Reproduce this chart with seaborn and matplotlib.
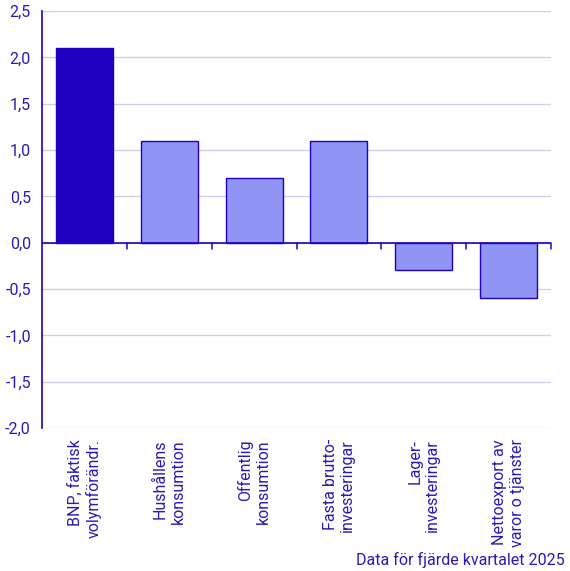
import numpy as np
import pandas as pd
import matplotlib.pyplot as plt
import seaborn as sns

categories = ['BNP, faktisk\nvolymförändr.', 'Hushållens\nkonsumtion', 'Offentlig\nkonsumtion',
              'Fasta brutto-\ninvesteringar', 'Lager-\ninvesteringar', 'Nettoexport av\nvaror o tjänster']
values = [2.1, 1.1, 0.7, 1.1, -0.3, -0.6]
bar_colors = ['#1e00be', '#8f94f5', '#8f94f5', '#8f94f5', '#8f94f5', '#8f94f5']
yticks = [2.5, 2.0, 1.5, 1.0, 0.5, 0.0, -0.5, -1.0, -1.5, -2.0]

dark = '#1e00be'
text_col = '#2a1ab4'

sns.set_style('white')
plt.rcParams['font.family'] = ['Roboto', 'DejaVu Sans']

df = pd.DataFrame({'kategori': categories, 'varde': values})

fig = plt.figure(figsize=(5.70, 5.71), dpi=100)
ax = fig.add_axes([42 / 570, 1 - 428 / 571, 509 / 570, 417 / 571])

sns.barplot(data=df, x='kategori', y='varde', hue='kategori', palette=bar_colors,
            legend=False, width=0.67, saturation=1, edgecolor=dark, linewidth=1.0, ax=ax, zorder=3)

ax.set_xlim(-0.5, 5.5)
ax.set_ylim(-2.0, 2.5)
ax.set_yticks(yticks)
ax.set_yticklabels([f'{v:.1f}'.replace('.', ',') for v in yticks])
for v in yticks:
    ax.axhline(v, color='#cfcbeb', linewidth=0.9, zorder=1)
ax.axhline(0, color=dark, linewidth=1.2, zorder=4)

ax.set_xticks(np.arange(len(categories)))
ax.set_xticklabels(categories, rotation=90, ha='center', va='top', multialignment='right')
ax.tick_params(axis='x', length=0, pad=8, labelsize=11.5, labelcolor=text_col)
ax.tick_params(axis='y', length=5, width=1.1, color=dark, labelsize=11.5, labelcolor=text_col, pad=3)

# kategori-gränser som små streck på nollinjen
for b in np.arange(0.5, len(categories), 1.0):
    ax.plot([b, b], [0, -0.07], color=dark, linewidth=1.1, zorder=4, clip_on=False)

for s in ['top', 'right', 'bottom']:
    ax.spines[s].set_visible(False)
ax.spines['left'].set_color(dark)
ax.spines['left'].set_linewidth(1.2)
ax.set_xlabel('')
ax.set_ylabel('')

fig.text(565 / 570, 1 - 560 / 571, 'Data för fjärde kvartalet 2025', ha='right', va='center',
         fontsize=11.5, color=text_col)

fig.savefig('out.png', dpi=100)
